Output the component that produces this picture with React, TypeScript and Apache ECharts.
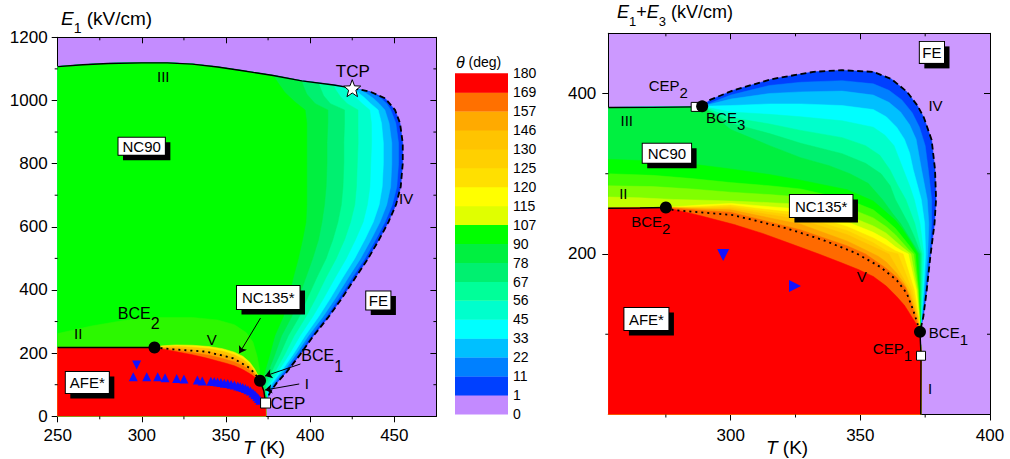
import { useEffect, useRef } from 'react';
import * as echarts from 'echarts';

const FONT = "'Liberation Sans', Arial, Helvetica, sans-serif";

// ---------------- colour bar ----------------
const colorbarLevels = ['0', '1', '11', '22', '33', '45', '56', '67', '78', '90', '107', '115', '120', '125', '130', '146', '157', '169', '180'];
const colorbarColors = ['#c38aff', '#0040ff', '#0080ff', '#00c0ff', '#00ffff', '#00ffcc', '#00ff99', '#00f070', '#00f040', '#00ff00', '#e0ff00', '#ffff00', '#ffe000', '#ffd000', '#ffc400', '#ffaa00', '#ff7000', '#ff0000'];

// ---------------- left panel: T (K) vs E1 (kV/cm) ----------------
const leftXMajor = [250, 300, 350, 400, 450];
const leftXMinor = [275, 325, 375, 425];
const leftYMajor = [0, 200, 400, 600, 800, 1000, 1200];
const leftYMinor = [100, 300, 500, 700, 900, 1100];

const leftLineIII = [[250, 1107], [265, 1113], [280, 1117], [300, 1119], [315, 1119], [330, 1115], [345, 1106], [360, 1094], [378, 1079], [395, 1062], [414, 1049], [425, 1039]];
const leftLineIV = [[425, 1039], [435.6, 1028], [444.5, 1007], [450.4, 970], [453.4, 928], [455, 865], [455, 800], [453.8, 727], [451, 670], [446.5, 615], [441, 560], [434.5, 500], [427, 440], [419, 375], [411, 315], [402, 255], [394, 195], [386, 140], [380, 105], [376.5, 78], [374.5, 58]];
const leftLineII = [[250, 218], [307.5, 218]];
const leftLineV = [[307.5, 218], [318.7, 212], [338.5, 204.6], [354.3, 183.6], [364.3, 152], [368.2, 127.6], [370.2, 112.7]];
const leftLineI = [[370.2, 112.7], [372.5, 80], [373.5, 42]];

const leftIso11 = [[433, 1031], [438, 1020], [442, 1007], [445.5, 990], [447.9, 970], [450.9, 928], [452.5, 865], [452.5, 800], [451.5, 727], [448.8, 670], [444.5, 615], [439, 560], [432.6, 500], [425.2, 440], [417.3, 375], [409.5, 315], [400.6, 255], [392.8, 195], [385, 140], [379.2, 105], [376, 78], [374.3, 55]];
const leftIso22 = [[429, 1035], [433, 1024], [437.5, 1007], [441, 990], [444.4, 970], [446.9, 928], [448.5, 865], [448.5, 800], [447.8, 727], [445.5, 670], [441.5, 615], [436.2, 560], [430, 500], [422.8, 440], [415.2, 375], [407.6, 315], [399, 255], [391.4, 195], [383.9, 140], [378.4, 105], [375.5, 78], [374.3, 55]];
const leftIso33 = [[425, 1039], [428, 1027], [432, 1010], [436, 990], [440.4, 970], [442.4, 928], [443.5, 865], [443.5, 800], [442.8, 727], [441, 670], [437.5, 615], [432.5, 560], [426.5, 500], [419.5, 440], [412.2, 375], [405, 315], [397, 255], [389.8, 195], [382.6, 140], [377.4, 105], [375, 78], [374.3, 55]];
const leftIso45 = [[421, 1042.5], [423, 1030], [427, 1010], [431, 990], [435.4, 970], [436.4, 928], [436.5, 865], [436, 800], [435.5, 727], [434, 670], [431.5, 615], [427, 560], [421.5, 500], [415, 440], [408.2, 375], [401.5, 315], [394, 255], [387.4, 195], [380.8, 140], [376.2, 105], [374.4, 78], [374.3, 55]];
const leftIso56 = [[414, 1049], [415, 1035], [418, 1012], [422, 990], [428.4, 970], [428.4, 928], [428.5, 865], [428, 800], [427.5, 727], [426.5, 670], [424, 615], [420.5, 560], [415.5, 500], [409.5, 440], [403.5, 375], [397.5, 315], [390.5, 255], [384.8, 195], [379, 140], [375, 105], [373.8, 78], [374.3, 55]];
const leftIso67 = [[405, 1055.5], [406, 1040], [408, 1015], [412, 990], [420.4, 970], [420.4, 928], [420, 865], [420, 800], [419.5, 727], [418.5, 670], [416.5, 615], [413.5, 560], [409.5, 500], [404, 440], [398.5, 375], [393.5, 315], [387, 255], [382, 195], [377, 140], [373.7, 105], [373.2, 78], [374.3, 55]];
const leftIso78 = [[395, 1062], [396, 1045], [398, 1020], [403, 990], [410.5, 970], [410.5, 928], [410, 865], [410, 800], [409.5, 727], [408.5, 670], [407, 615], [405, 560], [401.5, 500], [397.5, 440], [393, 375], [389, 315], [383, 255], [379, 195], [375, 140], [372.5, 105], [372.5, 78], [374.3, 55]];
const leftIso90 = [[378, 1079], [381, 1055], [385, 1025], [391, 995], [397, 970], [398, 928], [398, 865], [398, 800], [398, 727], [398, 670], [397.5, 615], [395.5, 560], [393, 500], [390, 440], [387, 375], [384, 315], [379, 255], [376, 195], [373, 140], [371.5, 105], [372, 78], [374.3, 55]];
const leftDome = [[250, 262], [270, 286], [290, 304], [310, 313], [330, 313], [345, 305], [355, 290], [362, 265], [366, 235], [368.5, 190], [370, 145], [370.2, 112.7]];
const leftIso115 = [[307.5, 218], [312, 223], [320, 226], [330, 225], [340, 221], [348, 214], [355, 203], [360, 190], [364, 172], [367, 150], [369, 130], [370.2, 112.7]];
const leftIso125 = [[307.5, 218], [320, 222], [330, 219], [340, 214], [348, 206], [355, 195], [360, 181], [364, 163], [367, 143], [370.2, 112.7]];
const leftIso146 = [[307.5, 218], [320, 216], [330, 211], [340, 204], [348, 196], [355, 185], [360, 170], [364, 155], [367, 138], [370.2, 112.7]];
const leftIso157 = [[307.5, 218], [320, 210], [330, 202], [340, 193], [348, 183], [355, 172], [360, 160], [364, 146], [367, 132], [370.2, 112.7]];
const leftRedEdge = [[307.5, 218], [320, 205], [330, 195], [338, 185], [345, 175], [350, 168], [355, 160], [360, 148], [365, 132], [370.2, 112.7], [372.5, 80], [373.5, 42], [373.7, 0]];

const leftBCE = [[307.5, 218], [370.2, 112.7]];
const leftCEP = [[373.5, 42]];
const leftTCP = [[425, 1039]];
const leftTriUp = [[294.9, 125.5], [302.9, 125.5], [309.4, 125.5], [313.8, 122.3], [320.7, 120], [325, 118], [333, 115], [335.9, 112], [341, 111], [343, 110], [345, 108.5], [347, 107], [349, 105], [351, 103.5], [353, 101.5], [355, 99], [357, 96], [358.5, 93.5], [360, 91], [361.5, 88], [363, 84], [364.5, 80], [366, 74], [367.2, 68], [368.3, 62], [369.3, 56], [370.2, 51]];
const leftTriDown = [[296.9, 162.4]];

const leftTexts = [['III', 312.7, 1075.4, 15], ['TCP', 425.3, 1091, 17], ['IV', 457, 690, 15], ['II', 262.2, 262.8, 15], ['V', 341.5, 241.6, 15], ['I', 398, 104.5, 15], ['CEP', 386.8, 41.2, 17]];
const leftSubTexts = [['BCE', '2', 286, 324, 16, 16, 10], ['BCE', '1', 395, 190, 16, 16, 11]];
const leftBoxes = [['NC90', 299.9, 855, 1, 4], ['FE', 440.5, 366.7, 1.5, 2.5], ['NC135*', 375.1, 376.2, 4, 5], ['AFE*', 267.6, 107, 3, 4]];
const leftArrows = [[[370.5, 311], [357.9, 199.5]], [[394.2, 165.6], [373.2, 127.6]], [[393.5, 102.3], [373.2, 83.3]]];

// ---------------- right panel: T (K) vs E1+E3 (kV/cm) ----------------
const rightXMajor = [300, 350, 400];
const rightXMinor = [275, 325, 375];
const rightYMajor = [200, 400];
const rightYMinor = [100, 300];

const rightLineIII = [[252.8, 382.5], [270, 382.7], [286.5, 383.3]];
const rightLineII = [[252.8, 257], [265, 257.3], [275, 258]];
const rightLineIV = [[289, 384], [292, 392], [301, 404], [316, 418], [332, 427], [343, 429], [355, 427], [362, 418], [368, 402], [372, 385], [374.5, 370], [377.5, 342], [378.8, 305], [379.2, 268], [378.6, 238], [377, 197], [375.6, 155], [374.3, 122], [373, 103]];
const rightLineV = [[275, 258], [277.9, 254.7], [301, 248.4], [321.6, 231.9], [335.7, 217.3], [348.6, 200.7], [357.6, 184], [364, 167.5], [367.9, 151], [370.4, 130], [372.4, 109.3], [373, 103]];
const rightLineI = [[373, 103], [373.4, 73.2], [373.3, 0]];

const rightIso11 = [[289, 384], [300, 398], [315, 410], [327, 414], [343, 416], [355, 412], [361, 404], [366, 392], [370, 376], [372.8, 358], [375, 335], [376.2, 305], [377.5, 268], [377.5, 238], [376.7, 200], [375.2, 155], [374, 122], [373, 103]];
const rightIso22 = [[289, 384], [300, 393], [315, 400], [327, 402], [343, 403], [355, 398], [361, 389], [365.5, 377], [369, 361], [371.5, 343], [373.6, 305], [375.8, 268], [376.4, 238], [376, 200], [374.8, 155], [373.8, 122], [373, 103]];
const rightIso33 = [[289, 384], [300, 385], [315, 387], [327, 387], [343, 385], [355, 380], [360, 371], [364, 358], [367, 343], [369, 326], [370.4, 305], [373.5, 268], [374.8, 238], [375.2, 200], [374.4, 155], [373.6, 122], [373, 103]];
const rightIso45 = [[289, 384], [300, 377], [315, 374], [327, 371], [343, 366], [355, 358], [359.5, 348], [363, 335], [366.6, 305], [369, 285], [370.8, 268], [373, 238], [374.5, 200], [374, 155], [373.5, 122], [373, 103]];
const rightIso56 = [[289, 384], [300, 370], [315, 362], [327, 354], [343, 345], [352, 335], [357.5, 323], [361.4, 305], [364.5, 285], [367.5, 268], [371, 238], [373.8, 200], [373.6, 155], [373.3, 122], [373, 103]];
const rightIso67 = [[289, 384], [300, 363], [315, 350], [327, 338], [343, 325], [352, 313], [358, 300], [361.5, 285], [363.5, 268], [366, 253], [368.5, 238], [371, 220], [373.3, 200], [373.3, 155], [373.2, 122], [373, 103]];
const rightIso78 = [[289, 384], [300, 355], [315, 335], [327, 320], [338, 310], [346, 300], [353, 288], [358.5, 268], [362.5, 250], [365.5, 238], [369, 220], [372.8, 200], [373, 155], [373.1, 122], [373, 103]];
const rightIso90 = [[252.8, 318], [270, 316], [285, 312], [300, 306], [315, 299], [327, 292], [345, 280], [355, 266], [360, 252], [363.5, 242], [366, 232], [369.5, 215], [372.2, 200], [372.8, 155], [373, 122], [373, 103]];
const rightIso95 = [[252.8, 300], [270, 298], [285, 294], [300, 289], [315, 285], [327, 281], [345, 268], [355, 255], [360, 242], [363.5, 232], [366, 222], [369, 210], [371.2, 200], [372.5, 155], [372.9, 122], [373, 103]];
const rightIso100 = [[252.8, 285], [270, 284], [285, 281], [300, 277], [315, 274], [327, 271], [345, 258], [355, 245], [360, 234], [363.5, 224], [366, 215], [368.5, 206], [370.5, 200], [372.3, 155], [372.8, 122], [373, 103]];
const rightIso107 = [[252.8, 271], [265, 270], [278, 268], [290, 267], [300, 266], [315, 264], [327, 262], [345, 248], [355, 235], [360, 226], [363.5, 216], [366, 209], [369.5, 200], [372, 155], [372.7, 122], [373, 103]];
const rightIso115 = [[275, 258], [288, 261], [300, 263], [315, 259], [327, 256], [345, 240], [355, 227], [360, 218], [363.5, 209], [366, 204], [368.5, 200], [371.6, 155], [372.6, 122], [373, 103]];
const rightIso120 = [[275, 258], [288, 259], [300, 261], [315, 255], [327, 251], [345, 234], [355, 220], [360, 211], [363.5, 204], [366.5, 200], [370.8, 155], [372.5, 122], [373, 103]];
const rightIso125 = [[275, 258], [290, 258], [300, 259], [315, 252], [327, 247], [345, 229], [355, 214], [360, 204], [364.5, 200], [370, 155], [372.3, 122], [373, 103]];
const rightIso130 = [[275, 258], [290, 257], [300, 257], [315, 249], [327, 243], [345, 224], [355, 209], [361, 200], [369.2, 155], [372.1, 122], [373, 103]];
const rightIso146 = [[275, 258], [290, 256], [300, 255], [315, 245], [327, 237], [345, 216], [352, 205], [357, 197], [360, 190], [364, 176], [367, 163], [369, 150], [371.9, 122], [373, 103]];
const rightIso157 = [[275, 258], [290, 254], [300, 252], [315, 240], [327, 230], [345, 210], [352, 200], [360, 182], [364, 171], [367.5, 158], [369.5, 140], [371.2, 122], [373, 103]];
const rightRedEdge = [[275, 258], [288, 248], [301, 237], [312, 226], [323, 213], [334, 200], [342, 190], [349, 181], [355, 172], [360, 160], [364, 147], [367, 136], [369, 126], [371.5, 113], [373, 103], [373.4, 73.2], [373.3, 0]];

const rightBCE = [[275, 258], [289, 384], [373, 103]];
const rightCEP = [[286.5, 383.3], [373.4, 73.2]];
const rightTriDown = [[297.1, 198.6]];
const rightTriRight = [[324.8, 160]];

const rightTexts = [['IV', 379, 385.4, 15], ['III', 259.9, 366.8, 15], ['II', 258.6, 275.5, 15], ['V', 350.5, 171.6, 15], ['I', 376.9, 32.6, 15]];
const rightSubTexts = [['CEP', '2', 268.6, 409.7, 15, 15, 7], ['BCE', '3', 290.7, 369.9, 15, 15, 7], ['BCE', '2', 261.8, 240.1, 15, 15, 7], ['BCE', '1', 376.6, 101.1, 15, 15, 7], ['CEP', '1', 355, 81.2, 15, 15, 7]];
const rightBoxes = [['FE', 377.6, 451.2, 3, 2.5], ['NC90', 275.4, 325.6, 2, 5], ['NC135*', 334.9, 259.7, 3.5, 5], ['AFE*', 267.5, 118.9, 3.5, 4.5]];

// ---------------- build regions ----------------
const L_SUFFIX = [[373.5, 42], [373.7, 0]];
const leftIsoSet = [
  { c: leftIso11, col: '#0080ff' },
  { c: leftIso22, col: '#00c0ff' },
  { c: leftIso33, col: '#00ffff' },
  { c: leftIso45, col: '#00ffcc' },
  { c: leftIso56, col: '#00ff99' },
  { c: leftIso67, col: '#00f070' },
  { c: leftIso78, col: '#00f040' },
  { c: leftIso90, col: '#00ff00' },
];
const leftLens = [
  { c: leftIso115, col: '#ffee00' },
  { c: leftIso125, col: '#ffc400' },
  { c: leftIso146, col: '#ffa400' },
  { c: leftIso157, col: '#ff7000' },
];
const leftRegions: any[] = [
  { col: '#0040ff', pts: [[250, 0], ...leftLineIII, ...leftLineIV.slice(1), ...L_SUFFIX] },
  ...leftIsoSet.map(({ c, col }) => ({ col, pts: [[250, 0], ...leftLineIII.filter((p) => p[0] < c[0][0]), ...c, ...L_SUFFIX] })),
  { col: '#2cf800', pts: [[250, 0], ...leftDome, ...L_SUFFIX] },
  ...leftLens.map(({ c, col }) => ({ col, pts: [[250, 0], [250, 218], ...c, [372.5, 80], ...L_SUFFIX] })),
  { col: '#ff0000', pts: [[250, 0], [250, 218], ...leftRedEdge] },
];

const R_SUFFIX = [[373.4, 73.2], [373.3, 0]];
const R_TOP = [[252.8, 0], [252.8, 382.5], [286.5, 383.3]];
const rightUpper = [
  { c: rightIso11, col: '#0080ff' },
  { c: rightIso22, col: '#00c0ff' },
  { c: rightIso33, col: '#00ffff' },
  { c: rightIso45, col: '#00ffcc' },
  { c: rightIso56, col: '#00ff99' },
  { c: rightIso67, col: '#00f070' },
  { c: rightIso78, col: '#00f040' },
];
const rightMid = [
  { c: rightIso90, col: '#00ff00' },
  { c: rightIso95, col: '#40ff00' },
  { c: rightIso100, col: '#80ff00' },
  { c: rightIso107, col: '#c4ff00' },
];
const rightFan = [
  { c: rightIso115, col: '#ffff00' },
  { c: rightIso120, col: '#ffe000' },
  { c: rightIso125, col: '#ffd000' },
  { c: rightIso130, col: '#ffc000' },
  { c: rightIso146, col: '#ffa000' },
  { c: rightIso157, col: '#ff6a00' },
];
const rightRegions: any[] = [
  { col: '#0040ff', pts: [...R_TOP, ...rightLineIV, ...R_SUFFIX] },
  ...rightUpper.map(({ c, col }) => ({ col, pts: [...R_TOP, ...c, ...R_SUFFIX] })),
  ...rightMid.map(({ c, col }) => ({ col, pts: [[252.8, 0], ...c, ...R_SUFFIX] })),
  ...rightFan.map(({ c, col }) => ({ col, pts: [[252.8, 0], [252.8, 257], ...c, ...R_SUFFIX] })),
  { col: '#ff0000', pts: [[252.8, 0], [252.8, 257], ...rightRedEdge] },
];

// ---------------- helpers ----------------
let measureCtx: CanvasRenderingContext2D | null = null;
function textWidth(t: string, fs: number) {
  if (!measureCtx) measureCtx = document.createElement('canvas').getContext('2d');
  if (!measureCtx) return t.length * fs * 0.6;
  measureCtx.font = `${fs}px ${FONT}`;
  return measureCtx.measureText(t).width;
}

function polySeries(regions: any[], xi: number, yi: number) {
  return {
    type: 'custom', xAxisIndex: xi, yAxisIndex: yi, silent: true, clip: true, z: 1,
    data: regions.map((r) => r.pts[1]),
    renderItem: (params: any, api: any) => {
      const r = regions[params.dataIndex];
      return {
        type: 'polygon',
        shape: { points: r.pts.map((p: number[]) => api.coord(p)) },
        style: { fill: r.col, stroke: r.col, lineWidth: 0.5 },
      };
    },
  };
}

function minorTickSeries(xi: number, yi: number, xr: number[], yr: number[], xs: number[], ys: number[]) {
  const items = [
    ...xs.map((v) => ({ p: [v, yr[0]], d: [0, 3] })),
    ...xs.map((v) => ({ p: [v, yr[1]], d: [0, 3] })),
    ...ys.map((v) => ({ p: [xr[0], v], d: [-3, 0] })),
    ...ys.map((v) => ({ p: [xr[1], v], d: [-3, 0] })),
  ];
  return {
    type: 'custom', xAxisIndex: xi, yAxisIndex: yi, silent: true, clip: false, z: 9,
    data: items.map((it) => it.p),
    renderItem: (params: any, api: any) => {
      const it = items[params.dataIndex];
      const c = api.coord(it.p);
      return { type: 'line', shape: { x1: c[0], y1: c[1], x2: c[0] + it.d[0], y2: c[1] + it.d[1] }, style: { stroke: '#000', lineWidth: 1 } };
    },
  };
}

function lineSeries(data: number[][], xi: number, yi: number, type: any, width = 1.4) {
  return {
    type: 'line', xAxisIndex: xi, yAxisIndex: yi, data, symbol: 'none', showSymbol: false, silent: true, z: 3,
    lineStyle: { color: '#000', width, type },
  };
}

function markerSeries(data: number[][], xi: number, yi: number, symbol: string, size: number, color: string, border?: string, rotate = 0, z = 4) {
  return {
    type: 'scatter', xAxisIndex: xi, yAxisIndex: yi, data, symbol, symbolSize: size, symbolRotate: rotate, silent: true, z,
    itemStyle: { color, borderColor: border || color, borderWidth: border ? 1 : 0, opacity: 1 },
  };
}

const HIDDEN_ITEM = { color: 'transparent', opacity: 1 };

function textSeries(items: any[], xi: number, yi: number) {
  return {
    type: 'scatter', xAxisIndex: xi, yAxisIndex: yi, symbolSize: 1, silent: true, z: 8,
    itemStyle: HIDDEN_ITEM,
    data: items.map(([t, x, y, fs]) => ({
      value: [x, y],
      label: { show: true, position: 'inside', formatter: t, fontSize: fs, fontFamily: FONT, color: '#000', opacity: 1 },
    })),
  };
}

function subTextSeries(items: any[], xi: number, yi: number) {
  return {
    type: 'scatter', xAxisIndex: xi, yAxisIndex: yi, symbolSize: 1, silent: true, z: 8,
    itemStyle: HIDDEN_ITEM,
    data: items.map(([m, s, x, y, fs, ss, d]) => ({
      value: [x, y],
      label: {
        show: true, position: [0, 0], align: 'left', verticalAlign: 'middle', opacity: 1,
        formatter: `{m|${m}}{s|${s}}`,
        rich: {
          m: { fontSize: fs, fontFamily: FONT, color: '#000' },
          s: { fontSize: ss, fontFamily: FONT, color: '#000', padding: [2 * d, 0, 0, 0] },
        },
      },
    })),
  };
}

function boxSeries(items: any[], xi: number, yi: number) {
  return {
    type: 'scatter', xAxisIndex: xi, yAxisIndex: yi, symbolSize: 1, silent: true, z: 8,
    itemStyle: HIDDEN_ITEM,
    data: items.map(([t, x, y, pv, ph]) => ({
      value: [x, y],
      label: {
        show: true, position: 'inside', formatter: t, fontSize: 15, fontFamily: FONT, opacity: 1,
        color: '#000', backgroundColor: '#fff', borderColor: '#000', borderWidth: 1,
        padding: [pv, ph],
      },
    })),
  };
}

// black offset "shadow" rectangle behind each boxed label
function boxShadowSeries(items: any[], xi: number, yi: number) {
  const lineH = textWidth('\u56fd', 15) || 15;
  return {
    type: 'custom', xAxisIndex: xi, yAxisIndex: yi, silent: true, clip: false, z: 7,
    data: items.map(([, x, y]) => [x, y]),
    renderItem: (params: any, api: any) => {
      const [t, x, y, pv, ph] = items[params.dataIndex];
      const c = api.coord([x, y]);
      const w = textWidth(t, 15) + 2 * ph + 1;
      const h = lineH + 2 * pv + 1;
      return { type: 'rect', shape: { x: c[0] - w / 2 + 5, y: c[1] - h / 2 + 5, width: w, height: h }, style: { fill: '#000' } };
    },
  };
}

function arrowSeries(arrows: number[][][], xi: number, yi: number) {
  return {
    type: 'lines', coordinateSystem: 'cartesian2d', xAxisIndex: xi, yAxisIndex: yi, silent: true, z: 6,
    symbol: ['none', 'arrow'], symbolSize: 7,
    lineStyle: { color: '#000', width: 1, opacity: 1, curveness: 0 },
    data: arrows.map((a) => ({ coords: a })),
  };
}

function valAxis(o: any) {
  return {
    type: 'value', gridIndex: o.grid, min: o.min, max: o.max, position: o.pos,
    ...(o.interval ? { interval: o.interval } : {}),
    axisLine: { show: true, onZero: false, lineStyle: { color: '#000', width: 1 } },
    axisTick: { show: true, inside: o.inside, length: 6, customValues: o.ticks, lineStyle: { color: '#000', width: 1 } },
    axisLabel: o.labels
      ? { show: true, customValues: o.labels, fontSize: 17, color: '#000', fontFamily: FONT, margin: o.margin,
          formatter: (v: number) => (o.labels.indexOf(v) >= 0 ? String(v) : '') }
      : { show: false },
    splitLine: { show: false },
    minorTick: { show: false },
  };
}

function buildOption() {
  return {
    animation: false,
    backgroundColor: '#fff',
    textStyle: { fontFamily: FONT },
    grid: [
      { left: 57.7, top: 37.3, width: 378.7, height: 379, show: true, backgroundColor: '#c48cff', borderWidth: 0, containLabel: false, outerBoundsMode: 'none' },
      { left: 608.3, top: 33.3, width: 381.7, height: 381.2, show: true, backgroundColor: '#cc99ff', borderWidth: 0, containLabel: false, outerBoundsMode: 'none' },
      { left: 455, top: 73.3, width: 53, height: 340.7, show: false, containLabel: false, outerBoundsMode: 'none' },
    ],
    xAxis: [
      valAxis({ grid: 0, min: 250, max: 475, pos: 'bottom', interval: 50, inside: false, ticks: leftXMajor, labels: leftXMajor, margin: 11 }),
      valAxis({ grid: 0, min: 250, max: 475, pos: 'top', interval: 50, inside: true, ticks: leftXMajor }),
      valAxis({ grid: 1, min: 252.8, max: 400, pos: 'bottom', inside: false, ticks: rightXMajor, labels: rightXMajor, margin: 12 }),
      valAxis({ grid: 1, min: 252.8, max: 400, pos: 'top', inside: true, ticks: rightXMajor }),
      { type: 'value', gridIndex: 2, min: 0, max: 1, show: false },
    ],
    yAxis: [
      valAxis({ grid: 0, min: 0, max: 1200, pos: 'left', interval: 200, inside: false, ticks: leftYMajor, labels: leftYMajor, margin: 10 }),
      valAxis({ grid: 0, min: 0, max: 1200, pos: 'right', interval: 200, inside: true, ticks: leftYMajor }),
      valAxis({ grid: 1, min: 0, max: 475, pos: 'left', inside: false, ticks: rightYMajor, labels: rightYMajor, margin: 12 }),
      valAxis({ grid: 1, min: 0, max: 475, pos: 'right', inside: true, ticks: rightYMajor }),
      {
        type: 'value', gridIndex: 2, min: 0, max: 18, interval: 1, position: 'right',
        axisLine: { show: false }, axisTick: { show: false }, splitLine: { show: false },
        axisLabel: { show: true, fontSize: 14, color: '#000', fontFamily: FONT, margin: 5,
          formatter: (v: number) => colorbarLevels[Math.round(v)] ?? '' },
      },
    ],
    graphic: [
      { type: 'text', x: 61, y: 18, z: 20, style: { text: '{e|E}{s|1}{n| (kV/cm)}', align: 'left', verticalAlign: 'middle', fill: '#000',
        rich: { e: { fontSize: 19, fontStyle: 'italic', fontFamily: FONT }, s: { fontSize: 14, fontFamily: FONT, padding: [20, 0, 0, 0] }, n: { fontSize: 19, fontFamily: FONT } } } },
      { type: 'text', x: 243, y: 447, z: 20, style: { text: '{t|T}{n| (K)}', align: 'left', verticalAlign: 'middle', fill: '#000',
        rich: { t: { fontSize: 19, fontStyle: 'italic', fontFamily: FONT }, n: { fontSize: 19, fontFamily: FONT } } } },
      { type: 'text', x: 617, y: 12, z: 20, style: { text: '{e|E}{s|1}{n|+}{e|E}{s|3}{n| (kV/cm)}', align: 'left', verticalAlign: 'middle', fill: '#000',
        rich: { e: { fontSize: 18, fontStyle: 'italic', fontFamily: FONT }, s: { fontSize: 13, fontFamily: FONT, padding: [18, 0, 0, 0] }, n: { fontSize: 18, fontFamily: FONT } } } },
      { type: 'text', x: 766, y: 447, z: 20, style: { text: '{t|T}{n| (K)}', align: 'left', verticalAlign: 'middle', fill: '#000',
        rich: { t: { fontSize: 19, fontStyle: 'italic', fontFamily: FONT }, n: { fontSize: 19, fontFamily: FONT } } } },
      { type: 'text', x: 456, y: 62, z: 20, style: { text: '{t|θ}{n| (deg)}', align: 'left', verticalAlign: 'middle', fill: '#000',
        rich: { t: { fontSize: 16, fontStyle: 'italic', fontFamily: FONT }, n: { fontSize: 14, fontFamily: FONT } } } },
    ],
    series: [
      // colour bar
      {
        type: 'custom', xAxisIndex: 4, yAxisIndex: 4, silent: true, z: 1,
        data: colorbarColors.map((_, i) => [0.5, i + 0.5]),
        renderItem: (params: any, api: any) => {
          const i = params.dataIndex;
          const p0 = api.coord([0, i]);
          const p1 = api.coord([1, i + 1]);
          return { type: 'rect', shape: { x: p0[0], y: p1[1], width: p1[0] - p0[0], height: p0[1] - p1[1] + 0.4 }, style: { fill: colorbarColors[i] } };
        },
      },
      // left panel
      polySeries(leftRegions, 0, 0),
      lineSeries(leftLineIII, 0, 0, 'solid', 1.4),
      lineSeries(leftLineIV, 0, 0, [6, 3.5], 1.8),
      lineSeries(leftLineII, 0, 0, 'solid', 1.4),
      lineSeries(leftLineV, 0, 0, [2, 4], 1.8),
      lineSeries(leftLineI, 0, 0, 'solid', 1.4),
      markerSeries(leftTriUp, 0, 0, 'triangle', 9, '#1010ff'),
      markerSeries(leftTriDown, 0, 0, 'triangle', 9, '#1010ff', undefined, 180),
      markerSeries(leftBCE, 0, 0, 'circle', 12, '#000'),
      markerSeries(leftCEP, 0, 0, 'rect', 10, '#fff', '#000'),
      markerSeries(leftTCP, 0, 0, 'path://M12,1 L14.9,8.6 L23,8.9 L16.7,14 L18.8,21.9 L12,17.4 L5.2,21.9 L7.3,14 L1,8.9 L9.1,8.6 Z', 17, '#fff', '#000'),
      arrowSeries(leftArrows, 0, 0),
      textSeries(leftTexts, 0, 0),
      subTextSeries(leftSubTexts, 0, 0),
      boxShadowSeries(leftBoxes, 0, 0),
      boxSeries(leftBoxes, 0, 0),
      minorTickSeries(0, 0, [250, 475], [0, 1200], leftXMinor, leftYMinor),
      // right panel
      polySeries(rightRegions, 2, 2),
      lineSeries(rightLineIII, 2, 2, 'solid', 1.4),
      lineSeries(rightLineII, 2, 2, 'solid', 1.4),
      lineSeries(rightLineIV, 2, 2, [6, 3.5], 1.8),
      lineSeries(rightLineV, 2, 2, [2, 4], 1.8),
      lineSeries(rightLineI, 2, 2, 'solid', 1.4),
      markerSeries(rightTriDown, 2, 2, 'triangle', 12, '#1010ff', undefined, 180),
      markerSeries(rightTriRight, 2, 2, 'triangle', 12, '#1010ff', undefined, -90),
      markerSeries(rightCEP, 2, 2, 'rect', 9, '#fff', '#000'),
      markerSeries(rightBCE, 2, 2, 'circle', 12, '#000', undefined, 0, 5),
      textSeries(rightTexts, 2, 2),
      subTextSeries(rightSubTexts, 2, 2),
      boxShadowSeries(rightBoxes, 2, 2),
      boxSeries(rightBoxes, 2, 2),
      minorTickSeries(2, 2, [252.8, 400], [0, 475], rightXMinor, rightYMinor),
    ],
  };
}

export default function App() {
  const ref = useRef<HTMLDivElement>(null);
  useEffect(() => {
    const chart = echarts.init(ref.current as HTMLDivElement, undefined, { renderer: 'svg' });
    chart.setOption(buildOption() as any);
    return () => chart.dispose();
  }, []);
  return <div ref={ref} style={{ position: 'absolute', left: 0, top: 0, width: 1010, height: 459, background: '#fff' }} />;
}
